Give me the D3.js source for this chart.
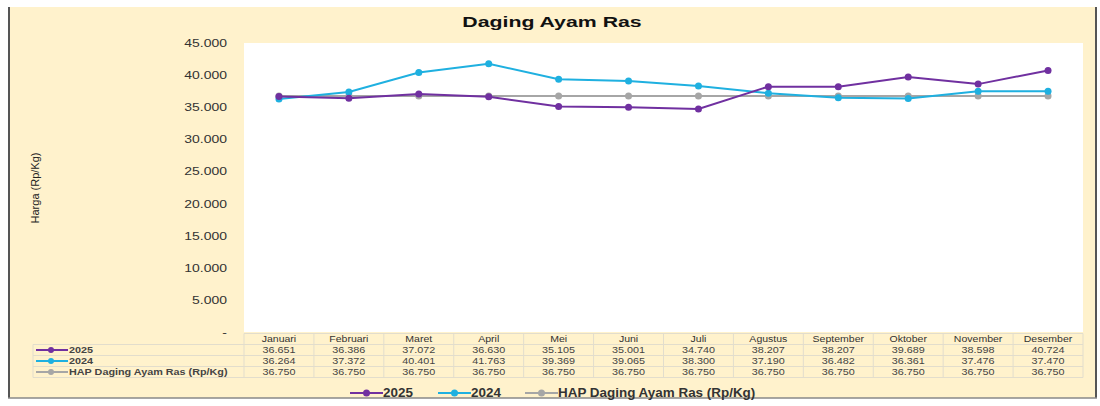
<!DOCTYPE html>
<html><head><meta charset="utf-8">
<script src="https://cdn.jsdelivr.net/npm/d3@7/dist/d3.min.js"></script>
<style>body{margin:0;background:#fff}svg{display:block;font-family:"Liberation Sans",Arial,sans-serif}</style>
</head><body><svg id="c" width="1100" height="406"></svg>
<script>
const months = ["Januari","Februari","Maret","April","Mei","Juni","Juli","Agustus","September","Oktober","November","Desember"];
const v2025 = [36651,36386,37072,36630,35105,35001,34740,38207,38207,39689,38598,40724];
const v2024 = [36264,37372,40401,41763,39369,39065,38300,37190,36482,36361,37476,37470];
const vHAP = [36750,36750,36750,36750,36750,36750,36750,36750,36750,36750,36750,36750];
const yTicks = [0,5000,10000,15000,20000,25000,30000,35000,40000,45000];
const seriesNames = ["2025","2024","HAP Daging Ayam Ras (Rp/Kg)"];
const seriesColors = ["#7030a0","#1fb0e0","#a6a6a6"];
const series = [v2025, v2024, vHAP];

const svg = d3.select("#c");
function stretch(sel, sx){
  sel.each(function(){
    const t = d3.select(this);
    const x0 = +t.attr("x")||0, y0 = +t.attr("y")||0;
    t.attr("transform",`translate(${x0},${y0}) scale(${sx},1) translate(${-x0},${-y0})`);
  });
}
// frame
svg.append("rect").attr("x",8).attr("y",7).attr("width",1088).attr("height",391).attr("fill","#fff2cc");
svg.append("line").attr("x1",9).attr("x2",9).attr("y1",7).attr("y2",398).attr("stroke","#555").attr("stroke-width",2);
svg.append("line").attr("x1",1096).attr("x2",1096).attr("y1",7).attr("y2",398).attr("stroke","#555").attr("stroke-width",2);
svg.append("line").attr("x1",8).attr("x2",1097).attr("y1",398).attr("y2",398).attr("stroke","#888").attr("stroke-width",1.5);

const L = 244, R = 1083, T = 43, B = 332;
svg.append("rect").attr("x",L).attr("y",T).attr("width",R-L).attr("height",B-T).attr("fill","#fff");

stretch(svg.append("text").attr("x",552).attr("y",27).attr("text-anchor","middle")
  .attr("font-size",15).attr("font-weight","bold").attr("fill","#111").text("Daging Ayam Ras"), 1.42);

const x = d3.scaleBand().domain(months).range([L,R]);
const y = d3.scaleLinear().domain([0,45000]).range([B,T]);
const fmt = v => v===0 ? "-" : d3.format(",")(v).replace(/,/g,".");

const yAxis = svg.append("g").attr("transform",`translate(${L},0)`)
  .call(d3.axisLeft(y).tickValues(yTicks).tickSize(0).tickPadding(17).tickFormat(fmt));
yAxis.select(".domain").remove();
yAxis.selectAll("text").attr("font-size",11).attr("fill","#333").attr("font-family","Liberation Sans, Arial, sans-serif")
  .attr("transform","translate(-17,0) scale(1.27,1) translate(17,0)");

svg.append("text").attr("transform","translate(39,188) rotate(-90)").attr("text-anchor","middle")
  .attr("font-size",11).attr("fill","#222").text("Harga (Rp/Kg)");

// lines (draw HAP first, then 2024, then 2025)
const line = d3.line().x((d,i)=>x(months[i])+x.bandwidth()/2).y(d=>y(d));
[2,1,0].forEach(k=>{
  svg.append("path").datum(series[k]).attr("d",line).attr("fill","none")
    .attr("stroke",seriesColors[k]).attr("stroke-width",2);
  svg.selectAll(null).data(series[k]).enter().append("circle")
    .attr("cx",(d,i)=>x(months[i])+x.bandwidth()/2).attr("cy",d=>y(d)).attr("r",3.5)
    .attr("fill",seriesColors[k]);
});

// data table
const rowH = 11, tTop = 333.5, labL = 33;
const grid = "#e2ddcc";
const tb = svg.append("g").attr("font-size",9).attr("fill","#444");
// header row
months.forEach((m,i)=>{
  stretch(tb.append("text").attr("x",x(m)+x.bandwidth()/2).attr("y",tTop+rowH-2.3).attr("text-anchor","middle").attr("fill","#333").text(m), 1.17);
});
for(let r=0;r<3;r++){
  const yy = tTop+rowH*(r+1);
  series[r].forEach((v,i)=>{
    stretch(tb.append("text").attr("x",x(months[i])+x.bandwidth()/2).attr("y",yy+rowH-2.3).attr("text-anchor","middle").text(fmt(v)), 1.2);
  });
  const cy = yy+rowH/2;
  tb.append("line").attr("x1",labL+3).attr("x2",labL+35).attr("y1",cy).attr("y2",cy).attr("stroke",seriesColors[r]).attr("stroke-width",2);
  tb.append("circle").attr("cx",labL+18).attr("cy",cy).attr("r",3).attr("fill",seriesColors[r]);
  stretch(tb.append("text").attr("x",labL+36).attr("y",yy+rowH-2.3).attr("font-weight","bold").attr("fill","#444").text(seriesNames[r]), 1.2);
}
// grid lines
const tBot = tTop+rowH*4;
tb.append("line").attr("x1",L).attr("x2",R).attr("y1",tTop).attr("y2",tTop).attr("stroke",grid);
for(let r=1;r<=4;r++){
  tb.append("line").attr("x1",labL).attr("x2",R).attr("y1",tTop+rowH*r).attr("y2",tTop+rowH*r).attr("stroke",grid);
}
months.forEach((m,i)=>{
  tb.append("line").attr("x1",x(m)).attr("x2",x(m)).attr("y1",tTop).attr("y2",tBot).attr("stroke",grid);
});
tb.append("line").attr("x1",R).attr("x2",R).attr("y1",tTop).attr("y2",tBot).attr("stroke",grid);
tb.append("line").attr("x1",labL).attr("x2",labL).attr("y1",tTop+rowH).attr("y2",tBot).attr("stroke",grid);

// bottom legend
const lg = svg.append("g").attr("font-size",12).attr("font-weight","bold").attr("fill","#333");
const legX = [350,438,525];
seriesNames.forEach((n,k)=>{
  const lx = legX[k], ly = 393;
  lg.append("line").attr("x1",lx).attr("x2",lx+33).attr("y1",ly).attr("y2",ly).attr("stroke",seriesColors[k]).attr("stroke-width",2);
  lg.append("circle").attr("cx",lx+16.5).attr("cy",ly).attr("r",3.5).attr("fill",seriesColors[k]);
  stretch(lg.append("text").attr("x",lx+33).attr("y",ly+4.5).text(n), 1.12);
});
</script></body></html>
